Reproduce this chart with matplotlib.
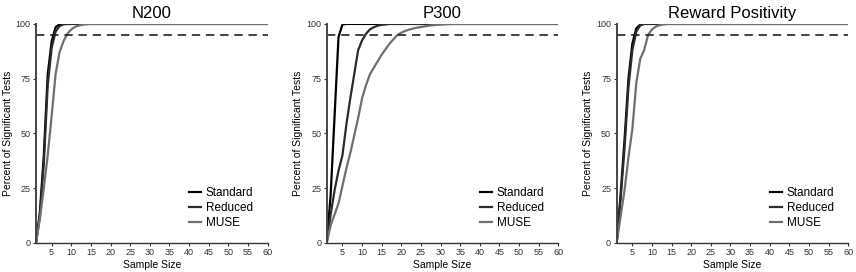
import matplotlib.pyplot as plt

plt.rcParams["font.family"] = ["Liberation Sans", "DejaVu Sans"]

# sample sizes 1..60
sample_size = list(range(1, 61))

titles = ["N200", "P300", "Reward Positivity"]
series_names = ["Standard", "Reduced", "MUSE"]


def pad(vals):
    # curves stay at 100 once they reach it
    return vals + [100] * (60 - len(vals))


n200_standard = pad([0, 14, 40, 77, 92, 98.5, 99.8])
n200_reduced = pad([0, 12, 36, 72, 89, 96.5, 99, 99.8])
n200_muse = pad([0, 11, 25, 40, 58, 77, 87, 92, 95.5, 97.5, 98.7, 99.3, 99.7, 99.9])

p300_standard = pad([0, 22, 58, 94, 99.7])
p300_reduced = pad([0, 13, 24, 33, 40, 54, 66, 77, 88, 92.5, 95.5, 97.5, 98.5,
                    99.2, 99.6, 99.8])
p300_muse = pad([0, 8, 13, 18, 26, 34, 41, 49, 57, 66, 72, 77, 80, 83, 86, 88.5,
                 91, 93, 95, 96, 96.8, 97.4, 97.9, 98.3, 98.6, 98.9, 99.2, 99.4,
                 99.6, 99.7, 99.8, 99.9])

rewp_standard = pad([0, 22, 47, 75, 91, 98, 99.7])
rewp_reduced = pad([0, 20, 43, 71, 88, 96.5, 99.3])
rewp_muse = pad([0, 12, 24, 39, 52, 73, 84, 88, 95, 97.5, 98.8, 99.5, 99.8])

panels = [
    [n200_standard, n200_reduced, n200_muse],
    [p300_standard, p300_reduced, p300_muse],
    [rewp_standard, rewp_reduced, rewp_muse],
]

criterion = 95

colors = ["#000000", "#2b2b2b", "#6f6f6f"]
spine_col = "#333333"

fig = plt.figure(figsize=(8.56, 2.72), dpi=100)
lefts = [0.042, 0.3817, 0.7204]
for i, (title, curves) in enumerate(zip(titles, panels)):
    ax = fig.add_axes([lefts[i], 0.107, 0.2705, 0.805])
    for vals, name, col in zip(curves, series_names, colors):
        ax.plot(sample_size, vals, color=col, lw=1.6, label=name)
    ax.axhline(criterion, color="#222222", lw=1.2, ls=(0, (5, 3.5)))

    ax.set_xlim(1, 60)
    ax.set_ylim(0, 100)
    ax.set_xticks(range(5, 61, 5))
    ax.set_yticks([0, 25, 50, 75, 100])
    for s in ["top", "right"]:
        ax.spines[s].set_visible(False)
    ax.spines["left"].set_color("#444444")
    ax.spines["left"].set_linewidth(1.4)
    ax.spines["bottom"].set_color(spine_col)
    ax.spines["bottom"].set_linewidth(1.0)
    ax.tick_params(axis="both", labelsize=6.5, length=2.5, width=0.8,
                   colors=spine_col, labelcolor="#333333", pad=1.5)

    ax.set_title(title, fontsize=12, pad=4)
    ax.set_xlabel("Sample Size", fontsize=7.5, labelpad=2)
    ax.set_ylabel("Percent of Significant Tests", fontsize=7.5, labelpad=2)

    ax.legend(loc="lower right", frameon=False, fontsize=8.5,
              handlelength=1.0, handletextpad=0.4, labelspacing=0.25,
              borderaxespad=0.2, bbox_to_anchor=(0.97, 0.03))

plt.savefig("out.png", dpi=100)
